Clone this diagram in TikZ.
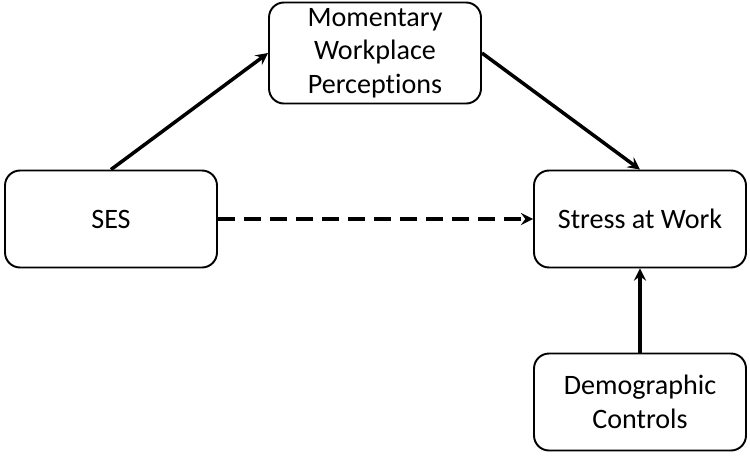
\documentclass[tikz,border=0pt]{standalone}
\usepackage{fontspec}
\setmainfont{Carlito}[Ligatures={NoCommon,NoRare}]
\usetikzlibrary{arrows}
\tikzset{
    varbox/.style={draw, line width=1.1pt, rounded corners=0.3cm,
        minimum width=4.24cm, minimum height=1.94cm, align=center,
        font=\fontsize{16}{19}\selectfont},
    path/.style={->, line width=2pt}
}
\begin{document}
\begin{tikzpicture}[>=stealth, x=0.02cm, y=-0.02cm]
        \useasboundingbox (0,0) rectangle (750,457);
        \node[varbox] (mwp) at (375,53) {Momentary\\Workplace\\Perceptions};
        \node[varbox] (ses) at (111,219) {SES};
        \node[varbox] (stress) at (640,219) {Stress at Work};
        \node[varbox] (demo) at (640,402) {Demographic\\Controls};
        \draw[path] (ses.north) -- (mwp.west);
        \draw[path] (mwp.east) -- (stress.north);
        \draw[path, dash pattern=on 0.34cm off 0.18cm] (ses.east) -- (stress.west);
        \draw[path] (demo.north) -- (stress.south);
    \end{tikzpicture}
\end{document}
